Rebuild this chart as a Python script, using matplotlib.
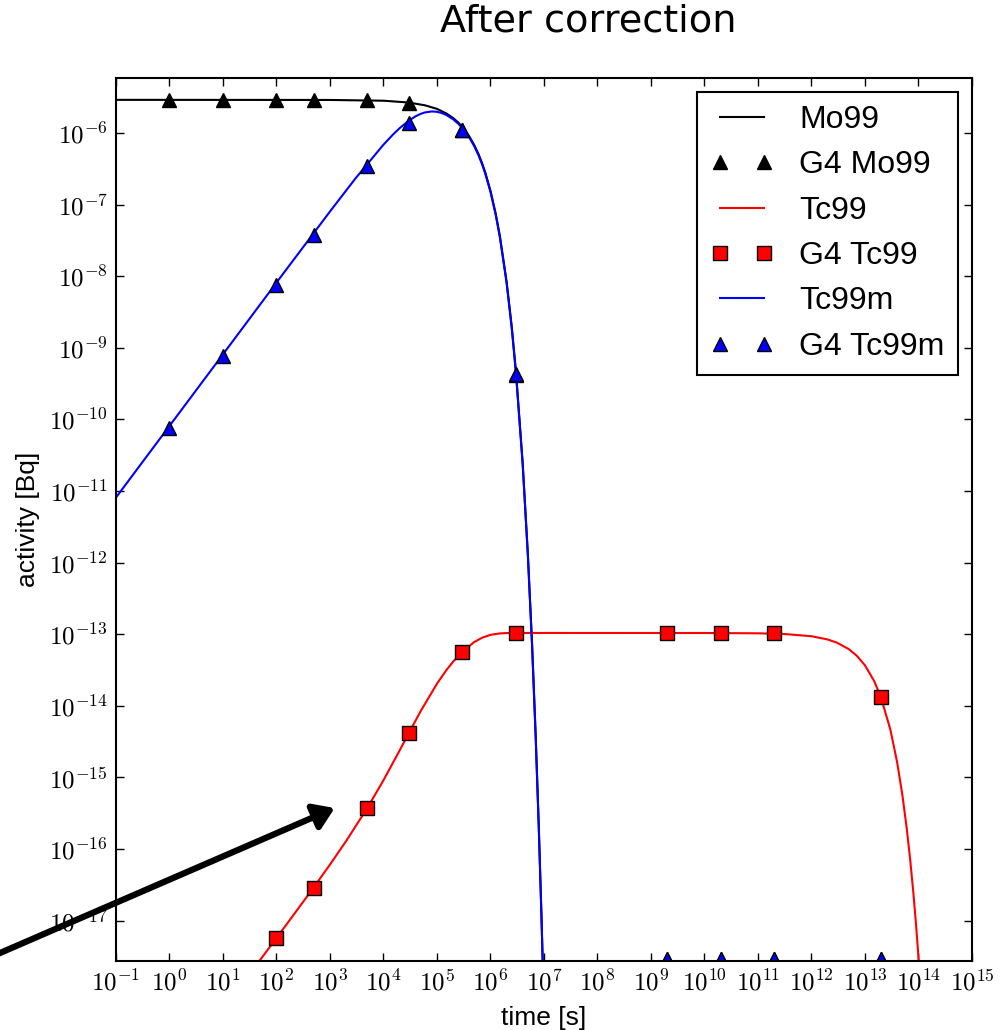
# Mo99 -> Tc99m -> Tc99 decay chain, activity vs time (after correction)
import numpy as np
import matplotlib
matplotlib.use("Agg")
import matplotlib.pyplot as plt
from matplotlib.ticker import LogLocator, NullLocator, FuncFormatter
from matplotlib.patches import FancyArrowPatch

plt.rcParams["font.family"] = ["Liberation Sans", "DejaVu Sans"]
plt.rcParams["mathtext.fontset"] = "cm"

# analytic curves
t_mo99 = [0.1, 1e3, 1e4, 3e4, 6e4, 1e5, 1.5e5, 2e5, 2.5e5, 3e5, 4e5, 5e5, 6e5, 7e5, 8e5,
          1e6, 1.25e6, 1.5e6, 2e6, 2.5e6, 3e6, 4e6, 5e6, 6e6, 7e6, 8e6, 9e6, 1e7]
a_mo99 = [2.9e-6, 2.89e-6, 2.82e-6, 2.66e-6, 2.43e-6, 2.17e-6, 1.87e-6, 1.62e-6, 1.40e-6,
          1.21e-6, 9.02e-7, 6.73e-7, 5.03e-7, 3.76e-7, 2.80e-7, 1.56e-7, 7.54e-8, 3.63e-8,
          8.44e-9, 1.96e-9, 4.55e-10, 2.46e-11, 1.32e-12, 7.2e-14, 3.86e-15, 2.08e-16,
          1.12e-17, 6.1e-19]

t_tc99 = [20, 50, 100, 200, 500, 1e3, 2e3, 5e3, 1e4, 2e4, 3e4, 5e4, 1e5, 1.5e5, 2e5, 3e5,
          5e5, 7e5, 1e6, 1.5e6, 2e6, 3e6, 1e7, 1e10, 1e11, 3e11, 1e12, 2e12, 3e12, 5e12,
          7e12, 1e13, 1.5e13, 2e13, 3e13, 4e13, 5e13, 6e13, 7e13, 8e13, 9e13, 1e14, 1.1e14]
a_tc99 = [1.14e-18, 2.85e-18, 5.72e-18, 1.151e-17, 2.93e-17, 6.06e-17, 1.287e-16, 3.75e-16,
          9.13e-16, 2.37e-15, 4.20e-15, 8.51e-15, 2.035e-14, 3.15e-14, 4.13e-14, 5.72e-14,
          7.79e-14, 8.94e-14, 9.79e-14, 1.026e-13, 1.037e-13, 1.040e-13, 1.040e-13,
          1.039e-13, 1.029e-13, 1.008e-13, 9.37e-14, 8.45e-14, 7.61e-14, 6.18e-14,
          5.02e-14, 3.68e-14, 2.19e-14, 1.30e-14, 4.59e-15, 1.62e-15, 5.74e-16, 2.03e-16,
          7.17e-17, 2.53e-17, 8.95e-18, 3.16e-18, 1.12e-18]

t_tc99m = [0.1, 1, 10, 100, 1e3, 3e3, 1e4, 1.5e4, 2e4, 3e4, 4e4, 5e4, 6e4, 8e4, 1e5, 1.2e5,
           1.5e5, 2e5, 2.5e5, 3e5, 4e5, 5e5, 6e5, 7e5, 8e5, 1e6, 1.25e6, 1.5e6, 2e6, 2.5e6,
           3e6, 4e6, 5e6, 6e6, 7e6, 8e6, 9e6, 1e7]
a_tc99m = [8.1e-12, 8.1e-11, 8.1e-10, 8.13e-9, 8.0e-8, 2.32e-7, 6.86e-7, 9.47e-7, 1.164e-6,
           1.492e-6, 1.711e-6, 1.852e-6, 1.937e-6, 1.998e-6, 1.974e-6, 1.909e-6, 1.781e-6,
           1.554e-6, 1.346e-6, 1.164e-6, 8.69e-7, 6.49e-7, 4.85e-7, 3.62e-7, 2.70e-7,
           1.507e-7, 7.26e-8, 3.50e-8, 8.13e-9, 1.89e-9, 4.39e-10, 2.37e-11, 1.27e-12,
           6.9e-14, 3.7e-15, 2.0e-16, 1.08e-17, 5.8e-19]

# G4 simulation points
g4_t = [1, 10, 100, 500, 5e3, 3e4, 3e5, 3e6, 2e9, 2e10, 2e11, 2e13]
g4_mo99 = [2.9e-6, 2.9e-6, 2.9e-6, 2.9e-6, 2.9e-6, 2.6e-6, 1.1e-6, 4.2e-10,
           2.9e-18, 2.9e-18, 2.9e-18, 2.9e-18]
g4_tc99m = [7.5e-11, 7.7e-10, 7.5e-9, 3.8e-8, 3.5e-7, 1.37e-6, 1.1e-6, 4.3e-10,
            2.9e-18, 2.9e-18, 2.9e-18, 2.9e-18]
g4_t_tc99 = [100, 500, 5e3, 3e4, 3e5, 3e6, 2e9, 2e10, 2e11, 2e13]
g4_tc99 = [5.7e-18, 2.9e-17, 3.7e-16, 4.2e-15, 5.7e-14, 1.05e-13, 1.04e-13, 1.04e-13,
           1.03e-13, 1.32e-14]

fig = plt.figure(figsize=(10.05, 10.30), dpi=100)
ax = fig.add_axes([0.1154, 0.067, 0.8517, 0.8573])

lw = 1.5
ax.plot(t_mo99, a_mo99, "-", color="k", lw=lw, label="Mo99")
ax.plot(g4_t, g4_mo99, "^", color="k", mec="k", mew=1, ms=10, linestyle="none", label="G4 Mo99")
ax.plot(t_tc99, a_tc99, "-", color="r", lw=lw, label="Tc99")
ax.plot(g4_t_tc99, g4_tc99, "s", color="r", mec="k", mew=1, ms=9.5, linestyle="none", label="G4 Tc99")
ax.plot(t_tc99m, a_tc99m, "-", color="b", lw=lw, label="Tc99m")
ax.plot(g4_t, g4_tc99m, "^", color="b", mec="k", mew=1, ms=10, linestyle="none", label="G4 Tc99m")

ax.set_xscale("log")
ax.set_yscale("log")
ax.set_xlim(1e-1, 1e15)
ax.set_ylim(2.73e-18, 5.86e-6)

def dec(v, pos):
    return r"$10^{%d}$" % int(round(np.log10(v)))

for axis in (ax.xaxis, ax.yaxis):
    axis.set_major_locator(LogLocator(base=10, numticks=30))
    axis.set_minor_locator(NullLocator())
    axis.set_major_formatter(FuncFormatter(dec))

ax.tick_params(which="major", direction="in", length=6, width=1, top=True, right=True,
               labelsize=18, pad=6)
for sp in ax.spines.values():
    sp.set_linewidth(1.5)

ax.set_xlabel("time [s]", fontsize=19, labelpad=8)
ax.set_ylabel("activity [Bq]", fontsize=19, labelpad=6)

leg = ax.legend(loc="upper right", numpoints=2, fontsize=23, borderpad=0.4, handlelength=2,
                handletextpad=0.8, labelspacing=0.48, borderaxespad=0.45, fancybox=False,
                framealpha=1, edgecolor="k")
leg.get_frame().set_linewidth(1.5)

fig.text(0.5856, 0.9699, "After correction", ha="center", va="baseline", fontsize=27.5,
         family="DejaVu Sans")

arrow = FancyArrowPatch((-0.02, 0.0663), (0.333, 0.2155), transform=fig.transFigure,
                        arrowstyle="-|>,head_length=0.6,head_width=0.4", mutation_scale=20,
                        lw=4.5, color="k", shrinkA=0, shrinkB=0)
fig.add_artist(arrow)

fig.savefig("out.png", dpi=100)
